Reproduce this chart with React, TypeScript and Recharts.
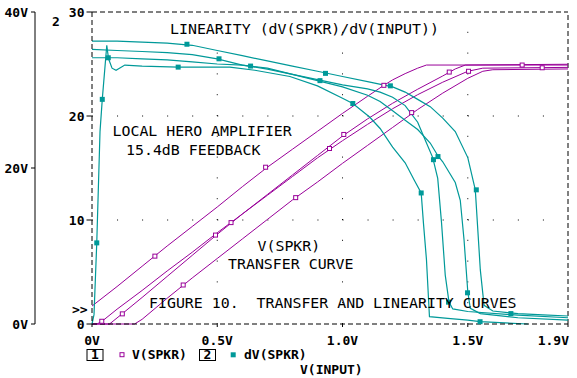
import React from 'react';
import { LineChart, Line, XAxis, YAxis, ReferenceLine } from 'recharts';

// x = V(INPUT) in volts; V(SPKR) curves use the outer 0..40V axis,
// dV(SPKR) curves use the inner 0..30 axis. Four swept traces each.
const vSpkrA = [[0, 2.3], [0.1, 4.8], [0.2, 7.4], [0.3, 10.0], [0.4, 12.5], [0.5, 15.0], [0.6, 17.6], [0.7, 20.1], [0.8, 22.4], [0.9, 24.7], [1.0, 27.0], [1.1, 29.2], [1.165, 30.6], [1.2, 31.3], [1.25, 32.1], [1.3, 32.8], [1.335, 33.2], [1.9, 33.2]];
const vSpkrB = [[0, 0], [0.02, 0], [0.04, 0.35], [0.1, 1.9], [0.2, 4.3], [0.3, 6.8], [0.4, 9.2], [0.5, 11.7], [0.6, 14.1], [0.7, 16.6], [0.8, 19.1], [0.9, 21.6], [1.0, 24.1], [1.1, 26.3], [1.2, 28.3], [1.3, 30.1], [1.4, 31.8], [1.45, 32.7], [1.49, 33.2], [1.9, 33.3]];
const vSpkrC = [[0, 0], [0.07, 0], [0.12, 1.3], [0.2, 3.4], [0.3, 6.1], [0.4, 8.8], [0.5, 11.5], [0.6, 14.1], [0.7, 16.5], [0.8, 18.9], [0.9, 21.3], [1.0, 23.5], [1.1, 25.6], [1.2, 27.6], [1.3, 29.4], [1.4, 31.0], [1.5, 32.4], [1.56, 32.8], [1.9, 32.9]];
const vSpkrD = [[0, 0], [0.17, 0], [0.2, 0.6], [0.3, 3.3], [0.4, 5.9], [0.5, 8.4], [0.6, 10.9], [0.7, 13.4], [0.8, 15.9], [0.9, 18.2], [1.0, 20.6], [1.1, 22.9], [1.2, 25.2], [1.3, 27.5], [1.4, 29.6], [1.5, 31.5], [1.56, 32.4], [1.6, 32.6], [1.9, 32.7]];

const dvSpkrA = [[0, 27.2], [0.1, 27.2], [0.2, 27.1], [0.3, 27.0], [0.4, 26.8], [0.5, 26.3], [0.6, 25.8], [0.7, 25.3], [0.8, 24.8], [0.9, 24.3], [1.0, 23.8], [1.1, 23.3], [1.2, 22.8], [1.25, 22.3], [1.3, 21.6], [1.35, 20.9], [1.4, 19.8], [1.45, 18.5], [1.5, 16.0], [1.53, 12.9], [1.55, 5.2], [1.565, 1.8], [1.6, 1.25], [1.7, 1.0], [1.8, 0.87], [1.9, 0.77]];
const dvSpkrB = [[0, 26.4], [0.1, 26.3], [0.2, 26.2], [0.3, 26.1], [0.4, 25.9], [0.5, 25.5], [0.6, 24.9], [0.7, 24.5], [0.8, 24.0], [0.9, 23.5], [1.0, 23.0], [1.1, 22.6], [1.15, 22.3], [1.2, 21.8], [1.25, 21.0], [1.3, 19.4], [1.33, 17.7], [1.36, 16.0], [1.38, 14.0], [1.395, 9.8], [1.41, 4.7], [1.425, 2.1], [1.44, 1.45], [1.5, 1.2], [1.7, 0.85], [1.9, 0.6]];
const dvSpkrC = [[0, 25.6], [0.1, 25.6], [0.2, 25.5], [0.3, 25.4], [0.4, 25.2], [0.5, 25.0], [0.6, 24.9], [0.7, 24.6], [0.8, 24.0], [0.9, 23.4], [1.0, 22.8], [1.1, 22.0], [1.15, 21.4], [1.2, 20.5], [1.25, 19.6], [1.3, 18.7], [1.35, 17.4], [1.38, 16.2], [1.4, 15.6], [1.45, 13.6], [1.47, 11.9], [1.485, 8.1], [1.5, 3.1], [1.51, 1.5], [1.55, 1.0], [1.7, 0.6], [1.9, 0.38]];
const dvSpkrD = [[0, 0], [0.008, 0.9], [0.019, 7.8], [0.032, 18.5], [0.041, 21.6], [0.059, 26.8], [0.066, 25.5], [0.08, 24.6], [0.096, 24.4], [0.131, 24.9], [0.2, 24.8], [0.344, 24.7], [0.45, 24.7], [0.55, 24.7], [0.65, 24.4], [0.79, 23.8], [0.9, 22.9], [1.0, 21.7], [1.041, 21.2], [1.108, 19.9], [1.15, 18.8], [1.2, 17.0], [1.25, 15.5], [1.287, 13.8], [1.314, 12.6], [1.323, 9.7], [1.335, 6.2], [1.347, 0.7], [1.42, 0.55], [1.5, 0.38], [1.549, 0.22], [1.74, 0]];

// symbol positions along the traces
const vSpkrMarks = [[0.251, 8.7], [0.693, 20.1], [1.165, 30.6], [1.717, 33.2], [0.039, 0.35], [0.555, 13.0], [1.005, 24.3], [1.426, 32.3], [0.121, 1.3], [0.493, 11.4], [0.948, 22.5], [1.503, 32.4], [1.797, 32.85], [0.364, 5.0], [0.813, 16.2], [1.276, 27.1]];
const dvSpkrMarks = [[0.379, 26.9], [0.932, 24.1], [1.191, 22.9], [1.534, 12.9], [1.672, 1.0], [0.507, 25.5], [0.91, 23.4], [1.363, 15.8], [1.423, 2.1], [0.065, 25.6], [0.633, 24.8], [1.381, 16.1], [1.499, 3.0], [0.019, 7.8], [0.041, 21.6], [0.344, 24.7], [1.041, 21.2], [1.314, 12.6], [1.549, 0.22]];

const xTicks = [0, 0.5, 1.0, 1.5, 1.9];
const xTickLabels = ['0V', '0.5V', '1.0V', '1.5V', '1.9V'];
const vTicks = [0, 20, 40];
const vTickLabels = ['0V', '20V', '40V'];
const dvTicks = [0, 10, 20, 30];
const dvTickLabels = ['0', '10', '20', '30'];
const xGrid = [0.5, 1.0, 1.5];
const dvGrid = [10, 20];

const MAGENTA = '#990099';
const TEAL = '#009999';
const MONO = '"DejaVu Sans Mono", monospace';

const pts = (a: number[][]) => a.map(([x, y]) => ({ x, y }));

const boldTick = { fontFamily: MONO, fontSize: 13, fontWeight: 'bold', fill: '#000' };

const XTick = (props: any) => {
  const { x, y, payload } = props;
  const i = xTicks.indexOf(payload.value);
  const last = i === xTicks.length - 1;
  return (
    <text x={last ? x + 1 : x} y={y + 15.5} textAnchor={last ? 'end' : 'middle'} style={boldTick}>
      {xTickLabels[i]}
    </text>
  );
};

const openSquare = (props: any) => {
  const { cx, cy, index } = props;
  return <rect key={`o${index}`} x={cx - 2} y={cy - 2} width={4} height={4} fill="#fff" stroke={MAGENTA} strokeWidth={1} />;
};

const filledSquare = (props: any) => {
  const { cx, cy, index } = props;
  return <rect key={`f${index}`} x={cx - 2.5} y={cy - 2.5} width={5} height={5} fill={TEAL} stroke="none" />;
};

const plotText = { fontFamily: MONO, fontSize: 14.9, fill: '#000', whiteSpace: 'pre' as const };
const boldText = { fontFamily: MONO, fontSize: 13, fontWeight: 'bold' as const, fill: '#000', whiteSpace: 'pre' as const };

export default function App() {
  const vSeries = [vSpkrA, vSpkrB, vSpkrC, vSpkrD];
  const dvSeries = [dvSpkrA, dvSpkrB, dvSpkrC, dvSpkrD];
  return (
    <div style={{ position: 'absolute', left: 0, top: 0, width: 577, height: 378, background: '#fff' }}>
      <LineChart width={577} height={378} margin={{ top: 12, right: 9, bottom: 24, left: 0 }}>
        <XAxis
          dataKey="x"
          type="number"
          domain={[0, 1.9]}
          ticks={xTicks}
          interval={0}
          height={30}
          tickSize={3}
          tickMargin={2}
          tick={<XTick />}
          axisLine={{ stroke: '#000', strokeDasharray: '5 3' }}
          tickLine={{ stroke: '#000' }}
        />
        <YAxis
          yAxisId="dv"
          type="number"
          domain={[0, 30]}
          ticks={dvTicks}
          interval={0}
          width={57}
          tickSize={5.5}
          tickMargin={2}
          tick={boldTick}
          tickFormatter={(v: number) => dvTickLabels[dvTicks.indexOf(v)]}
          axisLine={{ stroke: '#000', strokeDasharray: '5 3' }}
          tickLine={{ stroke: '#000' }}
        />
        <YAxis
          yAxisId="v"
          type="number"
          domain={[0, 40]}
          ticks={vTicks}
          interval={0}
          width={35}
          tickSize={4}
          tickMargin={3}
          tick={boldTick}
          tickFormatter={(v: number) => vTickLabels[vTicks.indexOf(v)]}
          axisLine={{ stroke: '#000' }}
          tickLine={{ stroke: '#000' }}
        />

        {xGrid.map((g) => (
          <ReferenceLine key={`gx${g}`} x={g} yAxisId="dv" stroke="#000" strokeDasharray="1 19.8" />
        ))}
        {dvGrid.map((g) => (
          <ReferenceLine key={`gy${g}`} y={g} yAxisId="dv" stroke="#000" strokeDasharray="1 24.05" />
        ))}
        <ReferenceLine y={30} yAxisId="dv" stroke="#000" strokeDasharray="5 3" />
        <ReferenceLine x={1.9} yAxisId="dv" stroke="#000" strokeDasharray="5 3" />

        {vSeries.map((s, i) => (
          <Line key={`v${i}`} data={pts(s)} dataKey="y" yAxisId="v" type="linear" stroke={MAGENTA} strokeWidth={1} dot={false} activeDot={false} isAnimationActive={false} />
        ))}
        {dvSeries.map((s, i) => (
          <Line key={`d${i}`} data={pts(s)} dataKey="y" yAxisId="dv" type="linear" stroke={TEAL} strokeWidth={1.2} dot={false} activeDot={false} isAnimationActive={false} />
        ))}
        <Line data={pts(vSpkrMarks)} dataKey="y" yAxisId="v" stroke="none" dot={openSquare} activeDot={false} isAnimationActive={false} />
        <Line data={pts(dvSpkrMarks)} dataKey="y" yAxisId="dv" stroke="none" dot={filledSquare} activeDot={false} isAnimationActive={false} />
      </LineChart>

      <svg width={577} height={378} style={{ position: 'absolute', left: 0, top: 0, pointerEvents: 'none' }}>
        <text x={56} y={26} textAnchor="middle" style={boldText}>2</text>
        <text x={72} y={314} style={boldText}>{'>>'}</text>

        <text x={170} y={33.5} style={plotText}>LINEARITY (dV(SPKR)/dV(INPUT))</text>
        <text x={112.5} y={136} style={plotText}>LOCAL HERO AMPLIFIER</text>
        <text x={126} y={155} style={plotText}>15.4dB FEEDBACK</text>
        <text x={257.5} y={251} style={plotText}>V(SPKR)</text>
        <text x={228} y={269} style={plotText}>TRANSFER CURVE</text>
        <text x={149} y={307.5} style={plotText}>FIGURE 10.  TRANSFER AND LINEARITY CURVES</text>

        <rect x={87} y={349.5} width={16} height={11} fill="none" stroke="#000" strokeWidth={1} />
        <text x={95} y={359} textAnchor="middle" style={boldText}>1</text>
        <rect x={120} y={352.7} width={4} height={4} fill="#fff" stroke={MAGENTA} strokeWidth={1} />
        <text x={132} y={359.3} style={boldText}>V(SPKR)</text>
        <rect x={199.5} y={349.5} width={16} height={11} fill="none" stroke="#000" strokeWidth={1} />
        <text x={207.5} y={359} textAnchor="middle" style={boldText}>2</text>
        <rect x={230.7} y={352.3} width={5} height={5} fill={TEAL} />
        <text x={244} y={359.3} style={boldText}>dV(SPKR)</text>
        <text x={300} y={374} style={boldText}>V(INPUT)</text>
      </svg>
    </div>
  );
}
